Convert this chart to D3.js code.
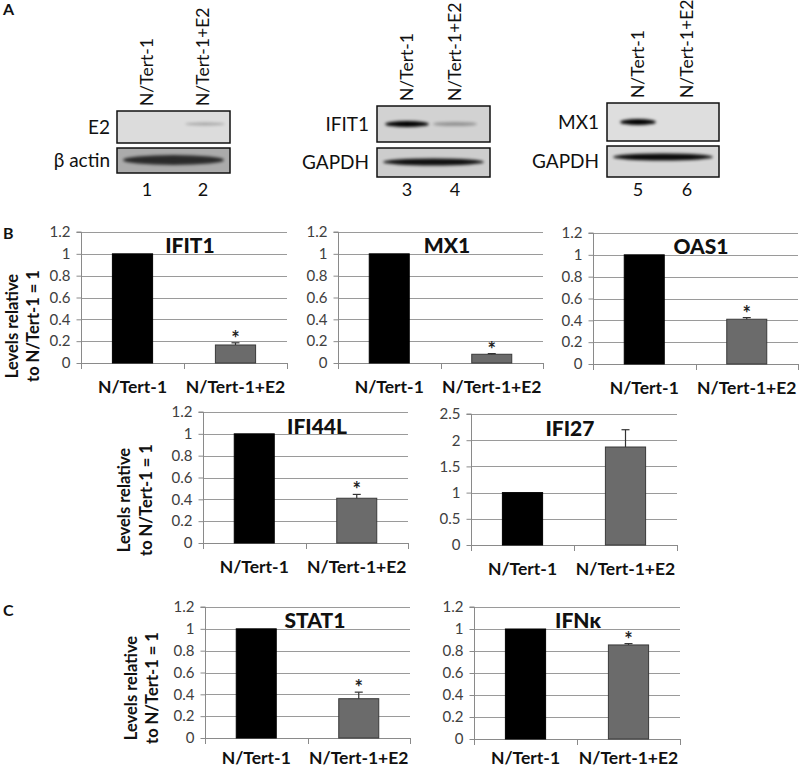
<!DOCTYPE html>
<html><head><meta charset="utf-8">
<script src="https://cdn.jsdelivr.net/npm/d3@7"></script>
<style>
html,body{margin:0;padding:0;background:#fff;}
svg{display:block;font-family:Lato,"Open Sans",sans-serif;}
</style></head>
<body><svg id="c" width="800" height="770"></svg>
<script>
// ---------- DATA ----------
const categories = ["N/Tert-1", "N/Tert-1+E2"];
const ifit1 = [1, 0.165];   const ifit1Err = [0, 0.02];
const mx1 = [1, 0.08];      const mx1Err = [0, 0.006];
const oas1 = [1, 0.41];     const oas1Err = [0, 0.015];
const ifi44l = [1, 0.41];   const ifi44lErr = [0, 0.035];
const ifi27 = [1, 1.87];    const ifi27Err = [0, 0.33];
const stat1 = [1, 0.36];    const stat1Err = [0, 0.06];
const ifnk = [1, 0.855];    const ifnkErr = [0, 0.012];
const starred = [false, true];
const ticks12 = ["0", "0.2", "0.4", "0.6", "0.8", "1", "1.2"];
const ticks25 = ["0", "0.5", "1", "1.5", "2", "2.5"];
const yLabel = ["Levels relative", "to N/Tert-1 = 1"];
// western blot band intensities (0..1) per lane
const laneNumbers = [["1", "2"], ["3", "4"], ["5", "6"]];
const blotE2 = [0.0, 0.25];
const blotActin = [0.75, 0.75];
const blotIFIT1 = [1.0, 0.3];
const blotGAPDHa = [0.9, 0.95];
const blotMX1 = [1.0, 0.0];
const blotGAPDHb = [0.95, 0.95];

// ---------- LAYOUT ----------
const svg = d3.select("#c");
const defs = svg.append("defs");
defs.append("filter").attr("id", "blur").attr("x", "-30%").attr("y", "-100%").attr("width", "160%").attr("height", "300%")
  .append("feGaussianBlur").attr("stdDeviation", 1.8);

// panel letters
[["A", 3, 15], ["B", 3, 239], ["C", 3, 616]].forEach(([t, x, y]) =>
  svg.append("text").attr("x", x).attr("y", y).attr("font-size", 16).attr("font-weight", "bold").attr("fill", "#111").text(t));

// ---------- BLOTS ----------
const blots = [
  {x0: 117, x1: 230, lanes: [147, 203], top: [111, 143], bot: [148, 173], labelRight: 110,
   names: ["E2", "\u03b2 actin"], data: [blotE2, blotActin], bg: ["#dcdcdc", "#ababab"], nums: laneNumbers[0],
   bandW: [40, 100], bandH: [4, 8], bandY: [124, 160], wide: [false, true]},
  {x0: 377, x1: 490, lanes: [407, 455], top: [106, 142], bot: [148, 177], labelRight: 369,
   names: ["IFIT1", "GAPDH"], data: [blotIFIT1, blotGAPDHa], bg: ["#d2d2d2", "#cdcdcd"], nums: laneNumbers[1],
   bandW: [44, 100], bandH: [6, 5], bandY: [124, 162], wide: [false, true]},
  {x0: 607, x1: 719, lanes: [638, 687], top: [103, 141], bot: [146, 177], labelRight: 599,
   names: ["MX1", "GAPDH"], data: [blotMX1, blotGAPDHb], bg: ["#dedede", "#d6d6d6"], nums: laneNumbers[2],
   bandW: [36, 100], bandH: [6, 5], bandY: [122, 157], wide: [false, true]}
];
blots.forEach(b => {
  categories.forEach((c, i) => {
    svg.append("text").attr("transform", `translate(${b.lanes[i]},${b.top[0] - 5}) rotate(-90)`)
      .attr("dy", "0.36em").attr("font-size", 17.5).attr("fill", "#111").text(c);
  });
  [b.top, b.bot].forEach((r, k) => {
    const g = svg.append("g");
    g.append("rect").attr("x", b.x0).attr("y", r[0]).attr("width", b.x1 - b.x0).attr("height", r[1] - r[0]).attr("fill", b.bg[k]);
    const col = "#000";
    if (b.wide[k]) {
      const v = b.data[k];
      g.append("ellipse").attr("cx", (b.x0 + b.x1) / 2).attr("cy", b.bandY[k])
        .attr("rx", (b.x1 - b.x0) / 2 - 6).attr("ry", b.bandH[k] / 2 + 1)
        .attr("fill", col).attr("opacity", d3.mean(v)).attr("filter", "url(#blur)");
    } else {
      b.data[k].forEach((v, i) => {
        if (v <= 0) return;
        g.append("ellipse").attr("cx", b.lanes[i] + (i === 1 && b.names[0] === "E2" ? 2 : 0)).attr("cy", b.bandY[k])
          .attr("rx", b.bandW[k] / 2).attr("ry", b.bandH[k] / 2 * (v < 0.5 ? 0.7 : 1))
          .attr("fill", col).attr("opacity", v).attr("filter", "url(#blur)");
      });
    }
    g.append("rect").attr("x", b.x0).attr("y", r[0]).attr("width", b.x1 - b.x0).attr("height", r[1] - r[0])
      .attr("fill", "none").attr("stroke", "#111").attr("stroke-width", 1.5);
    svg.append("text").attr("x", b.labelRight).attr("y", (r[0] + r[1]) / 2).attr("dy", "0.35em")
      .attr("text-anchor", "end").attr("font-size", 19).attr("fill", "#111").text(b.names[k]);
  });
  b.nums.forEach((n, i) => svg.append("text").attr("x", b.lanes[i]).attr("y", 190).attr("dy", "0.35em")
    .attr("text-anchor", "middle").attr("font-size", 18).attr("fill", "#111").text(n));
});

// ---------- BAR CHARTS ----------
const charts = [
  {name: "IFIT1", v: ifit1, e: ifit1Err, ticks: ticks12, x0: 81, x1: 287, yt: 232, yb: 363, tx: 190, ty: 253, yl: [12, 33, 326], lo: 30},
  {name: "MX1", v: mx1, e: mx1Err, ticks: ticks12, x0: 338, x1: 543, yt: 232, yb: 363, tx: 447, ty: 253, lo: 30},
  {name: "OAS1", v: oas1, e: oas1Err, ticks: ticks12, x0: 593, x1: 798, yt: 233, yb: 364, tx: 701, ty: 254, lo: 30},
  {name: "IFI44L", v: ifi44l, e: ifi44lErr, ticks: ticks12, x0: 203, x1: 408, yt: 412, yb: 543, tx: 317, ty: 434, yl: [124, 146, 500], lo: 30},
  {name: "IFI27", v: ifi27, e: ifi27Err, ticks: ticks25, x0: 471, x1: 677, yt: 414, yb: 545, tx: 570, ty: 436, nostar: true, lo: 30},
  {name: "STAT1", v: stat1, e: stat1Err, ticks: ticks12, x0: 205, x1: 410, yt: 607, yb: 738, tx: 315, ty: 628, yl: [131, 152, 688], lo: 26},
  {name: "IFN\u03ba", v: ifnk, e: ifnkErr, ticks: ticks12, x0: 474, x1: 680, yt: 607, yb: 739, tx: 578, ty: 628, lo: 25}
];
const barFill = ["#000000", "#6b6b6b"];
const barStroke = ["#000000", "#3a3a3a"];

charts.forEach(c => {
  const g = svg.append("g");
  const tv = c.ticks.map(Number);
  const y = d3.scaleLinear().domain([0, d3.max(tv)]).range([c.yb, c.yt]);
  const x = d3.scaleBand().domain(categories).range([c.x0, c.x1]).paddingInner(0.6).paddingOuter(0.3);
  g.selectAll(".grid").data(tv.slice(1)).join("line")
    .attr("x1", c.x0).attr("x2", c.x1).attr("y1", d => Math.round(y(d)) + 0.5).attr("y2", d => Math.round(y(d)) + 0.5)
    .attr("stroke", "#9a9a9a").attr("stroke-width", 1);
  const ya = d3.axisLeft(y).tickValues(tv).tickSize(5).tickPadding(6).tickFormat((d, i) => c.ticks[i]);
  const yg = g.append("g").attr("transform", `translate(${c.x0 + 0.5},0)`).call(ya);
  yg.select(".domain").attr("stroke", "#8a8a8a").attr("d", `M-5,${c.yt}H0V${c.yb}`);
  yg.selectAll(".tick line").attr("stroke", "#8a8a8a");
  yg.selectAll(".tick text").attr("font-size", 15).attr("fill", "#404040").attr("font-family", "Lato,sans-serif");
  const xa = g.append("g");
  xa.append("line").attr("x1", c.x0).attr("x2", c.x1).attr("y1", c.yb + 0.5).attr("y2", c.yb + 0.5).attr("stroke", "#8a8a8a");
  const bounds = [c.x0, (c.x0 + c.x1) / 2, c.x1];
  xa.selectAll(".xt").data(bounds).join("line").attr("x1", d => Math.round(d) + 0.5).attr("x2", d => Math.round(d) + 0.5)
    .attr("y1", c.yb).attr("y2", c.yb + 6).attr("stroke", "#8a8a8a");
  xa.selectAll(".xl").data(categories).join("text").attr("x", d => x(d) + x.bandwidth() / 2).attr("y", c.yb + c.lo)
    .attr("text-anchor", "middle").attr("font-size", 17.5).attr("font-weight", "bold").attr("fill", "#111").text(d => d);
  g.selectAll(".bar").data(c.v).join("rect")
    .attr("x", (d, i) => x(categories[i]) + 0.5).attr("width", x.bandwidth() - 1)
    .attr("y", d => y(d)).attr("height", d => c.yb - y(d))
    .attr("fill", (d, i) => barFill[i]).attr("stroke", (d, i) => barStroke[i]).attr("stroke-width", 1);
  c.v.forEach((d, i) => {
    if (!c.e[i]) return;
    const cx = x(categories[i]) + x.bandwidth() / 2;
    const yTop = y(d + c.e[i]);
    g.append("line").attr("x1", cx).attr("x2", cx).attr("y1", y(d)).attr("y2", yTop).attr("stroke", "#333").attr("stroke-width", 1.2);
    g.append("line").attr("x1", cx - 4).attr("x2", cx + 4).attr("y1", yTop).attr("y2", yTop).attr("stroke", "#333").attr("stroke-width", 1.2);
    if (starred[i] && !c.nostar) {
      g.append("text").attr("x", cx).attr("y", yTop + 3).attr("text-anchor", "middle").attr("font-size", 20)
        .attr("font-weight", "bold").attr("fill", "#222").text("*");
    }
  });
  g.append("text").attr("x", c.tx).attr("y", c.ty).attr("text-anchor", "middle").attr("font-size", 21)
    .attr("font-weight", "900").attr("fill", "#111").text(c.name);
  if (c.yl) {
    yLabel.forEach((t, k) => {
      g.append("text").attr("transform", `translate(${c.yl[k]},${c.yl[2]}) rotate(-90)`).attr("dy", "0.36em")
        .attr("text-anchor", "middle").attr("font-size", 16.5).attr("font-weight", "bold").attr("fill", "#111").text(t);
    });
  }
});
</script></body></html>
